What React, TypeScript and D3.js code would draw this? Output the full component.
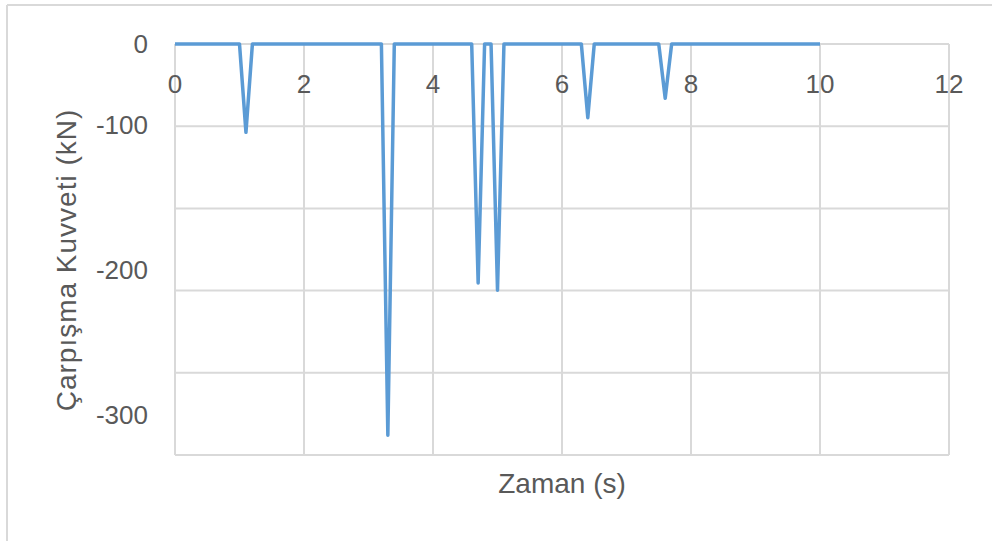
import React from "react";
import * as d3 from "d3";

const times = [0, 1.0, 1.1, 1.2, 3.2, 3.3, 3.4, 4.6, 4.7, 4.8, 4.9, 5.0, 5.1, 6.3, 6.4, 6.5, 7.5, 7.6, 7.7, 10];
const forces = [0, 0, -105, 0, 0, -314, 0, 0, -209, 0, 0, -214, 0, 0, -91, 0, 0, -67, 0, 0];
const xTicks = [0, 2, 4, 6, 8, 10, 12];
const yTicks = [0, -100, -200, -300];
const gridRows = [0, 1, 2, 3, 4, 5];
const xTitle = "Zaman (s)";
const yTitle = "Çarpışma Kuvveti (kN)";

const W = 992;
const H = 541;
const left = 175;
const right = 949;
const top = 44;
const bottom = 455;
const grey = "#d9d9d9";
const textColor = "#595959";
const font = "'Liberation Sans', Arial, sans-serif";

export default function App() {
  const x = d3.scaleLinear().domain([0, 12]).range([left, right]);
  const y = d3.scaleLinear().domain([0, -100, -200, -300]).range([44, 125, 270, 415]);
  const gy = d3.scaleLinear().domain([0, 5]).range([top, bottom]);
  const pts = times.map((t, i) => [t, forces[i]] as [number, number]);
  const line = d3
    .line<[number, number]>()
    .x((d) => x(d[0]))
    .y((d) => y(d[1]));

  return (
    <svg
      width={W}
      height={H}
      style={{ position: "absolute", left: 0, top: 0, background: "#fff" }}
      fontFamily={font}
    >
      <rect x={0} y={0} width={W} height={H} fill="#fff" />
      <line x1={7} x2={W} y1={5} y2={5} stroke={grey} strokeWidth={2} />
      <line x1={7} x2={7} y1={5} y2={H} stroke={grey} strokeWidth={2} />
      {gridRows.map((r) => (
        <line key={"h" + r} x1={left} x2={right} y1={gy(r)} y2={gy(r)} stroke={grey} strokeWidth={2} />
      ))}
      {xTicks.map((t) => (
        <line key={"v" + t} x1={x(t)} x2={x(t)} y1={top} y2={bottom} stroke={grey} strokeWidth={2} />
      ))}
      <path d={line(pts) || ""} fill="none" stroke="#5b9bd5" strokeWidth={3.5} strokeLinejoin="round" />
      {xTicks.map((t) => (
        <text key={"xt" + t} x={x(t)} y={93} textAnchor="middle" fontSize={26} fill={textColor}>
          {t}
        </text>
      ))}
      {yTicks.map((t) => (
        <text
          key={"yt" + t}
          x={148}
          y={y(t)}
          textAnchor="end"
          dominantBaseline="central"
          fontSize={26}
          fill={textColor}
        >
          {t}
        </text>
      ))}
      <text x={562} y={493} textAnchor="middle" fontSize={28} fill={textColor}>
        {xTitle}
      </text>
      <text
        transform={`translate(76,260) rotate(-90)`}
        textAnchor="middle"
        fontSize={28}
        letterSpacing={1}
        fill={textColor}
      >
        {yTitle}
      </text>
    </svg>
  );
}
